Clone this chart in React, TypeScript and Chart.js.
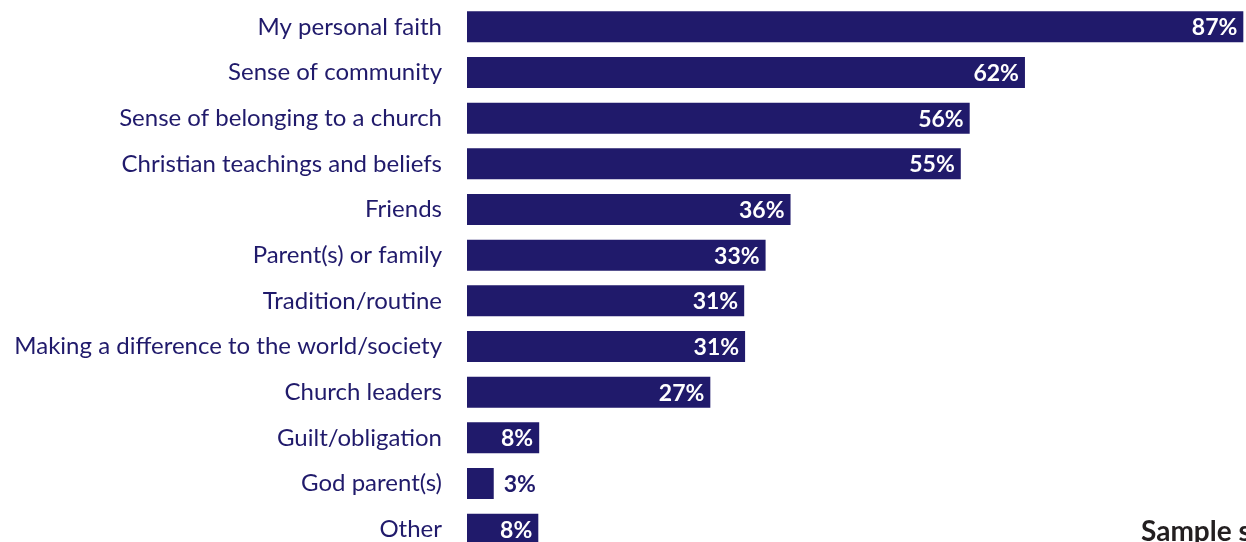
import React, { useEffect, useRef } from "react";
import { Chart, registerables } from "chart.js";

Chart.register(...registerables);

const categories = [
  "My personal faith",
  "Sense of community",
  "Sense of belonging to a church",
  "Christian teachings and beliefs",
  "Friends",
  "Parent(s) or family",
  "Tradition/routine",
  "Making a difference to the world/society",
  "Church leaders",
  "Guilt/obligation",
  "God parent(s)",
  "Other",
];
const values = [87.1, 62.6, 56.4, 55.4, 36.3, 33.5, 31.1, 31.2, 27.3, 8.1, 3.0, 8.0];
const valueLabels = ["87%", "62%", "56%", "55%", "36%", "33%", "31%", "31%", "27%", "8%", "3%", "8%"];
const footnote = "Sample s";

const NAVY = "#201a6b";
const FONT = "Lato, 'Open Sans', sans-serif";

export default function App() {
  const ref = useRef<HTMLCanvasElement | null>(null);
  useEffect(() => {
    if (!ref.current) return;
    const labelPlugin = {
      id: "valueLabels",
      afterDatasetsDraw(chart: any) {
        const ctx = chart.ctx;
        const meta = chart.getDatasetMeta(0);
        ctx.save();
        ctx.font = `bold 23px ${FONT}`;
        ctx.textBaseline = "middle";
        meta.data.forEach((bar: any, i: number) => {
          const txt = valueLabels[i];
          const w = ctx.measureText(txt).width;
          const barW = bar.x - bar.base;
          if (barW > w + 10) {
            ctx.fillStyle = "#ffffff";
            ctx.textAlign = "right";
            ctx.fillText(txt, bar.x - 6, bar.y + 1);
          } else {
            ctx.fillStyle = NAVY;
            ctx.textAlign = "left";
            ctx.fillText(txt, bar.x + 10, bar.y + 1);
          }
        });
        ctx.fillStyle = "#231f20";
        ctx.textAlign = "left";
        ctx.textBaseline = "alphabetic";
        ctx.font = `bold 28px ${FONT}`;
        ctx.fillText(footnote, 1141, 541);
        ctx.restore();
      },
    };
    const chart = new Chart(ref.current, {
      type: "bar",
      data: {
        labels: categories,
        datasets: [
          {
            data: values,
            backgroundColor: NAVY,
            borderWidth: 0,
            barPercentage: 0.68,
            categoryPercentage: 1,
          },
        ],
      },
      options: {
        indexAxis: "y",
        animation: false,
        responsive: false,
        maintainAspectRatio: false,
        layout: { padding: { top: 4, bottom: 0, left: 0, right: 0 } },
        plugins: { legend: { display: false }, tooltip: { enabled: false } },
        scales: {
          x: { display: false, min: 0, max: 87.4 },
          y: {
            grid: { display: false, drawTicks: false },
            border: { display: false },
            ticks: {
              color: NAVY,
              font: { family: FONT, size: 24 },
              padding: 25,
            },
            afterFit(scale: any) {
              scale.width = 467;
              scale.paddingTop = 0;
              scale.paddingBottom = 0;
            },
          },
        },
      },
      plugins: [labelPlugin],
    });
    return () => chart.destroy();
  }, []);
  return (
    <div style={{ position: "absolute", left: 0, top: 0, width: 1246, height: 552, background: "#fff" }}>
      <canvas ref={ref} width={1246} height={552} style={{ display: "block" }} />
    </div>
  );
}
